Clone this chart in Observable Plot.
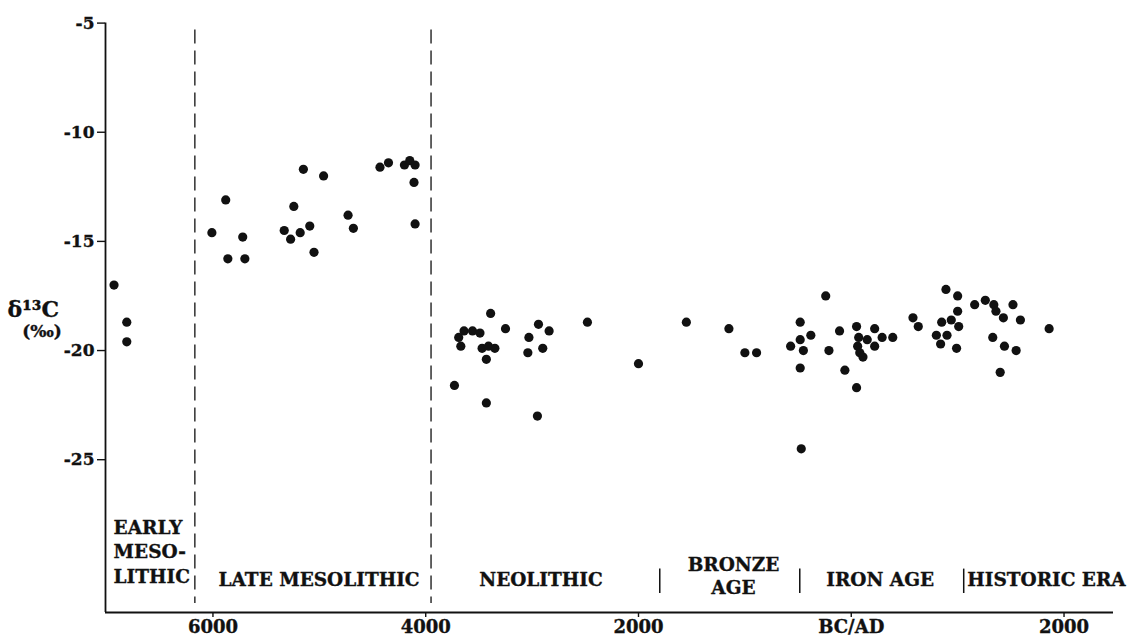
<!DOCTYPE html>
<html><head><meta charset="utf-8">
<script src="https://cdn.jsdelivr.net/npm/d3@7"></script>
<script src="https://cdn.jsdelivr.net/npm/@observablehq/plot@0.6"></script>
<style>
html,body{margin:0;padding:0;background:#fff;}
#chart svg{display:block;}
#chart svg text{stroke:#111;stroke-width:0.35px;}
</style>
</head><body><div id="chart"></div>
<script>
// ---- data (years: negative = BC) ----
const earlyMesoYear = [-6930, -6810, -6810];
const earlyMesoD13C = [-17.0, -18.7, -19.6];

const lateMesoYear = [-5880, -6010, -5720, -5860, -5700, -5150, -4960, -5240, -5330, -5270, -5180, -5090, -5050, -4730, -4680, -4430, -4350, -4200, -4150, -4100, -4110, -4100];
const lateMesoD13C = [-13.1, -14.6, -14.8, -15.8, -15.8, -11.7, -12.0, -13.4, -14.5, -14.9, -14.6, -14.3, -15.5, -13.8, -14.4, -11.6, -11.4, -11.5, -11.3, -11.5, -12.3, -14.2];

const neolithicYear = [-3390, -3250, -3690, -3640, -3560, -3490, -3670, -3470, -3410, -3350, -3430, -3730, -3430, -3030, -2940, -2840, -3040, -2900, -2950, -2480, -2000];
const neolithicD13C = [-18.3, -19.0, -19.4, -19.1, -19.1, -19.2, -19.8, -19.9, -19.8, -19.9, -20.4, -21.6, -22.4, -19.4, -18.8, -19.1, -20.1, -19.9, -23.0, -18.7, -20.6];

const bronzeYear = [-1550, -1150, -1000, -890];
const bronzeD13C = [-18.7, -19.0, -20.1, -20.1];

const ironYear = [-240, -480, -380, -480, -570, -450, -480, -470, -110, -210, -60, 50, 50, 220, 70, 150, 60, 80, 110, 220, 290, 390, 580, 630, 890, 1000, 1000, 850, 940, 1010, 800, 900, 840, 990];
const ironD13C = [-17.5, -18.7, -19.3, -19.5, -19.8, -20.0, -20.8, -24.5, -19.1, -20.0, -20.9, -21.7, -18.9, -19.0, -19.4, -19.5, -19.8, -20.1, -20.3, -19.8, -19.4, -19.4, -18.5, -18.9, -17.2, -17.5, -18.2, -18.7, -18.6, -18.9, -19.3, -19.3, -19.7, -19.9];

const historicYear = [1160, 1260, 1340, 1360, 1430, 1520, 1590, 1330, 1440, 1550, 1400, 1860];
const historicD13C = [-17.9, -17.7, -17.9, -18.2, -18.5, -17.9, -18.6, -19.4, -19.8, -20.0, -21.0, -19.0];

const xTickValues = [-6000, -4000, -2000, 0, 2000];
const xTickLabels = ["6000", "4000", "2000", "BC/AD", "2000"];
const yTickValues = [-5, -10, -15, -20, -25];
const yTickLabels = ["-5", "-10", "-15", "-20", "-25"];

const dashedDividers = [-6170, -3950];   // Early/Late Mesolithic, Late Mesolithic/Neolithic
const solidDividers = [-1800, -484, 1057]; // Neolithic/Bronze, Bronze/Iron, Iron/Historic

const periodLabels = ["LATE MESOLITHIC", "NEOLITHIC", "IRON AGE", "HISTORIC ERA"];
const periodLabelYears = [-5003, -2917, 272, 1835];
const earlyLabel = ["EARLY\nMESO-\nLITHIC"];
const earlyLabelYear = [-6934];
const bronzeLabel = ["BRONZE\nAGE"];
const bronzeLabelYear = [-1107];

const xDomain = [-7010, 2465];
const yDomain = [-32, -5];

// ---- build table ----
const groups = [
  [earlyMesoYear, earlyMesoD13C], [lateMesoYear, lateMesoD13C], [neolithicYear, neolithicD13C],
  [bronzeYear, bronzeD13C], [ironYear, ironD13C], [historicYear, historicD13C]
];
const points = groups.flatMap(([ys, vs]) => ys.map((yr, i) => ({year: yr, d13c: vs[i]})));

const font = "'DejaVu Serif', 'Liberation Serif', serif";
const ink = "#111";

const chart = Plot.plot({
  width: 1129,
  height: 637,
  marginLeft: 105,
  marginRight: 16,
  marginTop: 22.6,
  marginBottom: 25,
  x: {domain: xDomain},
  y: {domain: yDomain},
  style: {fontFamily: font, fontWeight: "bold", color: ink, background: "#fff"},
  marks: [
    Plot.ruleX([xDomain[0]], {stroke: ink, strokeWidth: 1.8}),
    Plot.ruleY([yDomain[0]], {stroke: ink, strokeWidth: 1.8}),
    Plot.axisX({ticks: xTickValues, tickFormat: d => xTickLabels[xTickValues.indexOf(d)], tickSize: 5, tickPadding: 3, fontSize: 18, fontWeight: "bold", label: null, stroke: ink, strokeWidth: 1.4}),
    Plot.axisY({ticks: yTickValues, tickFormat: d => yTickLabels[yTickValues.indexOf(d)], tickSize: 8, tickPadding: 3, fontSize: 17, fontWeight: "bold", label: null, stroke: ink, strokeWidth: 1.4}),
    Plot.ruleX(dashedDividers, {stroke: ink, strokeWidth: 1.3, strokeDasharray: "14,7", insetTop: 7, insetBottom: 9}),
    Plot.ruleX(solidDividers, {stroke: ink, strokeWidth: 1.5, insetTop: 546, insetBottom: 19}),
    Plot.dot(points, {x: "year", y: "d13c", r: 4.6, fill: ink, stroke: null}),
    Plot.text(periodLabels, {x: (d, i) => periodLabelYears[i], text: d => d, frameAnchor: "bottom", dy: -32, lineAnchor: "middle", fontSize: 18.5, fontWeight: "bold", fill: ink}),
    Plot.text(earlyLabel, {x: (d, i) => earlyLabelYear[i], text: d => d, frameAnchor: "bottom", dy: -62, lineAnchor: "middle", textAnchor: "start", lineHeight: 1.32, fontSize: 18.5, fontWeight: "bold", fill: ink}),
    Plot.text(bronzeLabel, {x: (d, i) => bronzeLabelYear[i], text: d => d, frameAnchor: "bottom", dy: -37.6, lineAnchor: "middle", lineHeight: 1.26, fontSize: 18.5, fontWeight: "bold", fill: ink}),
    Plot.text(["δ¹³C"], {frameAnchor: "top-left", dx: -98, dy: 278, textAnchor: "start", fontSize: 22, fontWeight: "bold", fill: ink}),
    Plot.text(["(‰)"], {frameAnchor: "top-left", dx: -63.5, dy: 302, textAnchor: "middle", fontSize: 17, fontWeight: "bold", fill: ink})
  ]
});
document.getElementById("chart").appendChild(chart);
</script>
</body></html>
